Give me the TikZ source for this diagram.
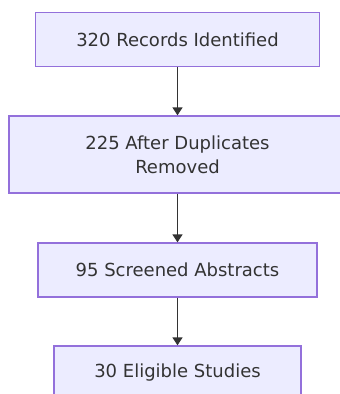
\documentclass[tikz,border=0pt]{standalone}
\usepackage{fontspec}
\setmainfont{DejaVu Sans}
\usetikzlibrary{arrows.meta}
\definecolor{boxfill}{HTML}{ECECFF}
\definecolor{boxline}{HTML}{9370DB}
\definecolor{arrowc}{HTML}{333333}
\tikzset{
  stepbox/.style={draw=boxline, fill=boxfill, line width=1.3pt, text=arrowc,
    font=\fontsize{18}{24}\selectfont, align=center, inner sep=0pt},
  flow/.style={draw=arrowc, line width=1.3pt, -{Triangle[width=10pt,length=8pt]}}
}
\begin{document}
\begin{tikzpicture}[x=1pt,y=-1pt]
\useasboundingbox (0,0) rectangle (340,394);
\clip (0,0) rectangle (340,394);
\node[stepbox, minimum width=284pt, minimum height=54pt] (a) at (177.5,39.5) {320 Records Identified};
\node[stepbox, minimum width=337pt, minimum height=77pt] (b) at (177.5,154.5) {225 After Duplicates\\Removed};
\node[stepbox, minimum width=279pt, minimum height=54pt] (c) at (177.5,270) {95 Screened Abstracts};
\node[stepbox, minimum width=247pt, minimum height=54pt] (d) at (177.5,373) {30 Eligible Studies};
\draw[flow] (a) -- (b);
\draw[flow] (b) -- (c);
\draw[flow] (c) -- (d);
\end{tikzpicture}
\end{document}
